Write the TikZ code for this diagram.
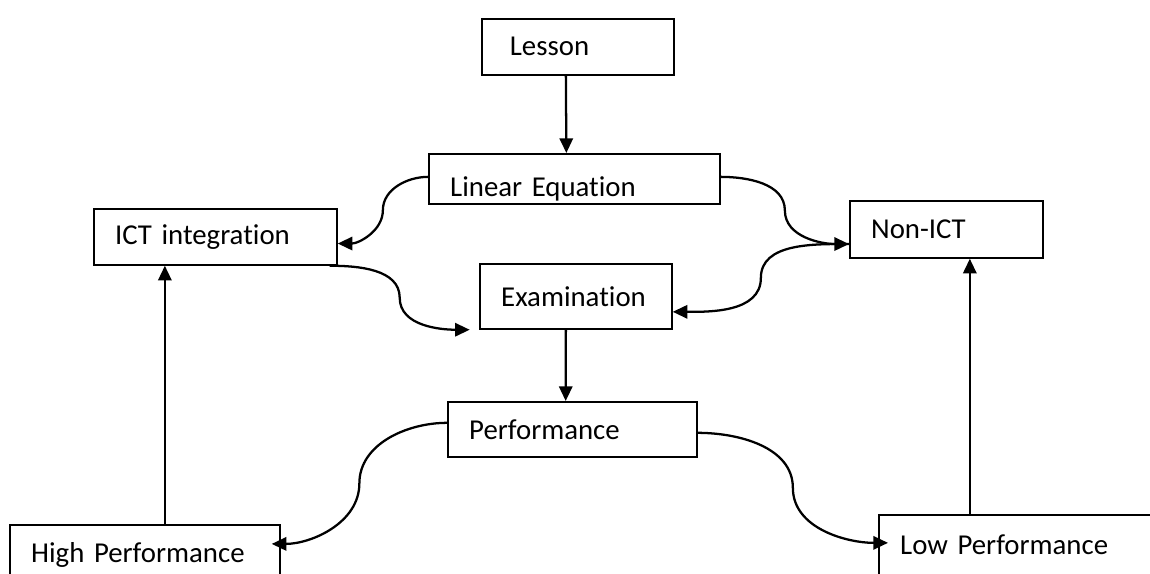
\documentclass[tikz,border=0pt]{standalone}
\usepackage{fontspec}
\setmainfont{Carlito}[Ligatures=NoCommon]
\usetikzlibrary{arrows.meta, calc}

\begin{document}
\begin{tikzpicture}[x=0.75pt, y=-0.75pt,
    every node/.style={font=\fontsize{21.6}{26}\selectfont},
    box/.style={draw, line width=1.3pt, anchor=north west, align=left, inner xsep=16pt},
    conn/.style={line width=1.7pt, looseness=0.95, -{Triangle[length=11pt, width=10pt]}}]
  \useasboundingbox (0,0) rectangle (1150,574);
  \clip (0,0) rectangle (1150,574);

  \node[box, inner xsep=21pt, text width=102pt, minimum height=42pt] (lesson) at (481,18) {Lesson};
  \node[box, text width=186.25pt, minimum height=37.5pt, inner ysep=0pt, text height=30pt] (lineq) at (428,153) {Linear Equation};
  \node[box, text width=150.25pt, minimum height=42pt] (ict) at (93,208) {ICT integration};
  \node[box, text width=112.75pt, minimum height=42.75pt] (nonict) at (849,200) {Non-ICT};
  \node[box, text width=112pt, minimum height=48.75pt] (exam) at (479,263) {Examination};
  \node[box, text width=154.75pt, minimum height=41.25pt] (perf) at (447,401) {Performance};
  \node[box, text width=170.5pt, minimum height=45.75pt] (high) at (9,524) {High Performance};
  \node[box, text width=193pt, minimum height=45pt] (low) at (878,514) {Low Performance};

  \coordinate (lin-l) at ([yshift=1.5pt]lineq.west);
  \coordinate (lin-r) at ([yshift=1.5pt]lineq.east);
  \coordinate (ict-in) at ([yshift=-5pt]ict.east);
  \coordinate (ict-out) at ([xshift=-6pt]ict.south east);
  \coordinate (non-in) at ([yshift=-11pt]nonict.west);
  \coordinate (exam-l) at ([xshift=-7pt]exam.south west);
  \coordinate (exam-r) at ([yshift=-11.6pt]exam.east);
  \coordinate (perf-l) at ([yshift=4.9pt]perf.west);
  \coordinate (perf-r) at ([yshift=-2.6pt]perf.east);
  \coordinate (high-in) at ([xshift=-6.75pt, yshift=8.6pt]high.east);
  \coordinate (low-in) at ([xshift=7.5pt, yshift=1.5pt]low.west);
  \coordinate (high-up) at ([xshift=15pt]high.north);
  \coordinate (non-up) at ([xshift=17.6pt]nonict.south);

  \draw[conn] ([xshift=-9pt]lesson.south) -- ([xshift=-6pt]lineq.north);
  \draw[conn] ([xshift=-7.5pt]exam.south) -- ([xshift=-5pt]perf.north);
  \draw[conn] (lin-l) to[out=180, in=90] ($(lin-l)!.5!(ict-in)$) to[out=-90, in=0] (ict-in);
  \draw[conn] (lin-r) to[out=0, in=90] ($(lin-r)!.5!(non-in)$) to[out=-90, in=180] (non-in);
  \draw[conn] (ict-out) to[out=0, in=90] ($(ict-out)!.5!(exam-l)$) to[out=-90, in=180] (exam-l);
  \draw[conn] (non-in) to[out=180, in=90] ($(non-in)!.5!(exam-r)$) to[out=-90, in=0] (exam-r);
  \draw[conn] (perf-l) to[out=180, in=90] ($(perf-l)!.5!(high-in)$) to[out=-90, in=0] (high-in);
  \draw[conn] (perf-r) to[out=0, in=90] ($(perf-r)!.5!(low-in)$) to[out=-90, in=180] (low-in);
  \draw[conn] (high-up) -- (high-up |- ict.south);
  \draw[conn] (non-up |- low.north) -- (non-up);
\end{tikzpicture}
\end{document}
